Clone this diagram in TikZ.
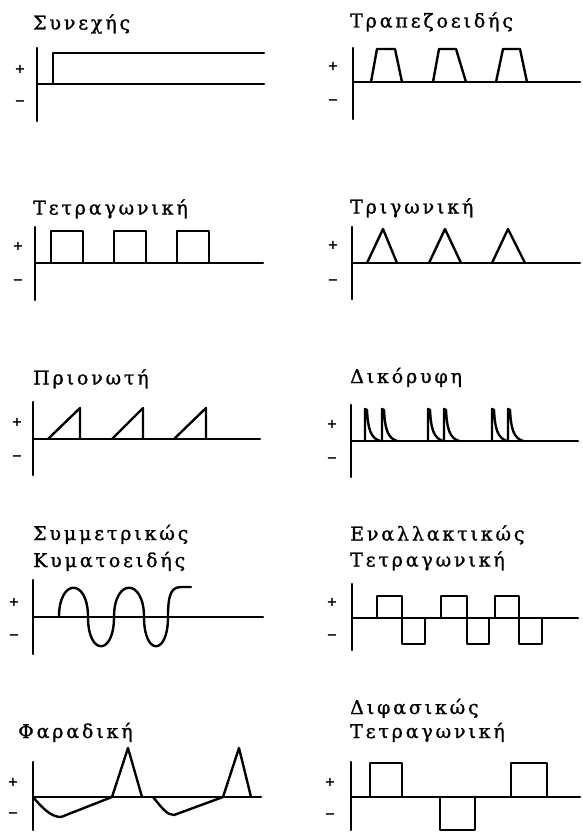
\documentclass[tikz,border=0pt]{standalone}
\usepackage{fontspec}
\newfontfamily\titlefont[LetterSpace=15,FakeBold=1.2]{DejaVu Serif}
\newfontfamily\signfont{DejaVu Sans}
\begin{document}
\begin{tikzpicture}[x=1pt,y=-1pt,
  wave/.style={line width=2.4pt, line join=round, line cap=round},
  ttl/.style={anchor=base west, inner sep=0pt, font=\titlefont\fontsize{19}{22}\selectfont},
  sgn/.style={inner sep=0pt, font=\signfont\bfseries\fontsize{13}{13}\selectfont}]
\useasboundingbox (0,0) rectangle (583,832);

% ---------- titles ----------
\node[ttl] (t1) at (33,29.5) {Συνεχής};
\node[ttl] (t2) at (350,27.5) {Τραπεζοειδής};
\node[ttl] (t3) at (33,214.5) {Τετραγωνική};
\node[ttl] (t4) at (350,213.5) {Τριγωνική};
\node[ttl] (t5) at (33,384.5) {Πριονωτή};
\node[ttl] (t6) at (350,383) {Δικόρυφη};
\node[ttl] (t7a) at (33,540) {Συμμετρικώς};
\node[ttl] (t7b) at (33,567) {Κυματοειδής};
\node[ttl] (t8a) at (350,540.5) {Εναλλακτικώς};
\node[ttl] (t8b) at (350,566.5) {Τετραγωνική};
\node[ttl] (t9) at (18,738) {Φαραδική};
\node[ttl] (t10a) at (350,714) {Διφασικώς};
\node[ttl] (t10b) at (350,738) {Τετραγωνική};

% ---------- signs ----------
\node[sgn] (p1) at (20,69) {+};   \node[sgn] (m1) at (20,103) {−};
\node[sgn] (p2) at (333,66) {+};  \node[sgn] (m2) at (333,102) {−};
\node[sgn] (p3) at (18,246) {+};  \node[sgn] (m3) at (18,282) {−};
\node[sgn] (p4) at (333,245) {+}; \node[sgn] (m4) at (333,282) {−};
\node[sgn] (p5) at (17,422) {+};  \node[sgn] (m5) at (17,458) {−};
\node[sgn] (p6) at (332,424) {+}; \node[sgn] (m6) at (332,460) {−};
\node[sgn] (p7) at (14,602) {+};  \node[sgn] (m7) at (14,637) {−};
\node[sgn] (p8) at (332,602) {+}; \node[sgn] (m8) at (332,637) {−};
\node[sgn] (p9) at (13,782) {+};  \node[sgn] (m9) at (13,815) {−};
\node[sgn] (p10) at (330,782) {+};\node[sgn] (m10) at (330,816) {−};

% ---------- 1 Συνεχής ----------
\draw[wave] (37,48) -- (37,121);
\draw[wave] (37,84) -- (264,84);
\draw[wave] (53,84) -- (53,53) -- (264,53);

% ---------- 2 Τραπεζοειδής ----------
\draw[wave] (353,48) -- (353,119);
\draw[wave] (353,82) -- (580,82);
\draw[wave] (371,82) -- (377,49) -- (395,49) -- (402,82);
\draw[wave] (433,82) -- (439,49) -- (456,49) -- (466,82);
\draw[wave] (496,82) -- (503,49) -- (520,49) -- (527,82);

% ---------- 3 Τετραγωνική ----------
\draw[wave] (35,227) -- (35,300);
\draw[wave] (35,263) -- (263,263);
\draw[wave] (51,263) -- (51,231) -- (83,231) -- (83,263);
\draw[wave] (114,263) -- (114,231) -- (146,231) -- (146,263);
\draw[wave] (177,263) -- (177,231) -- (209,231) -- (209,263);

% ---------- 4 Τριγωνική ----------
\draw[wave] (352,227) -- (352,299);
\draw[wave] (352,263) -- (580,263);
\draw[wave] (367,263) -- (383,229) -- (397,263);
\draw[wave] (429,263) -- (445,229) -- (461,263);
\draw[wave] (492,263) -- (508,229) -- (525,263);

% ---------- 5 Πριονωτή ----------
\draw[wave] (33,402) -- (33,475);
\draw[wave] (33,439) -- (260,439);
\draw[wave] (48,439) -- (80,408) -- (80,439);
\draw[wave] (112,439) -- (143,408) -- (143,439);
\draw[wave] (174,439) -- (206,408) -- (206,439);

% ---------- 6 Δικόρυφη ----------
\draw[wave] (351,405) -- (351,477);
\draw[wave] (351,441) -- (578,441);
\foreach \sx in {365,382,428,444,492,508}{
  \draw[wave] (\sx,441) -- (\sx,409) -- (\sx+2,410) .. controls (\sx+3,430) and (\sx+6,438) .. (\sx+15,441);
}

% ---------- 7 Συμμετρικώς Κυματοειδής ----------
\draw[wave] (33,580) -- (33,654);
\draw[wave] (33,617) -- (263,617);
\draw[wave] (59,617) .. controls (59,578) and (88,578) .. (88,617)
  .. controls (88,656) and (114,656) .. (114,617)
  .. controls (114,578) and (144,578) .. (144,617)
  .. controls (144,656) and (168,656) .. (168,617)
  .. controls (168,592) and (172,587) .. (182,587) -- (191,587);

% ---------- 8 Εναλλακτικώς Τετραγωνική ----------
\draw[wave] (352,584) -- (352,650);
\draw[wave] (352,618) -- (578,618);
\draw[wave] (377,618) -- (377,596) -- (402,596) -- (402,644) -- (425,644) -- (425,618);
\draw[wave] (441,618) -- (441,596) -- (467,596) -- (467,644) -- (489,644) -- (489,618);
\draw[wave] (495,618) -- (495,596) -- (519,596) -- (519,644) -- (542,644) -- (542,618);

% ---------- 9 Φαραδική ----------
\draw[wave] (33,762) -- (33,830);
\draw[wave] (33,797) -- (261,797);
\draw[wave] (33,797) .. controls (44,810) and (52,817) .. (61,817) -- (112,797) -- (128,748) -- (142,797);
\draw[wave] (153,797) .. controls (162,808) and (167,815) .. (174,815) -- (223,797) -- (239,748) -- (251,797);

% ---------- 10 Διφασικώς Τετραγωνική ----------
\draw[wave] (351,762) -- (351,830);
\draw[wave] (351,797) -- (580,797);
\draw[wave] (370,797) -- (370,763) -- (402,763) -- (402,797);
\draw[wave] (440,797) -- (440,830) -- (475,830) -- (475,797);
\draw[wave] (511,797) -- (511,763) -- (547,763) -- (547,797);
\end{tikzpicture}
\end{document}
